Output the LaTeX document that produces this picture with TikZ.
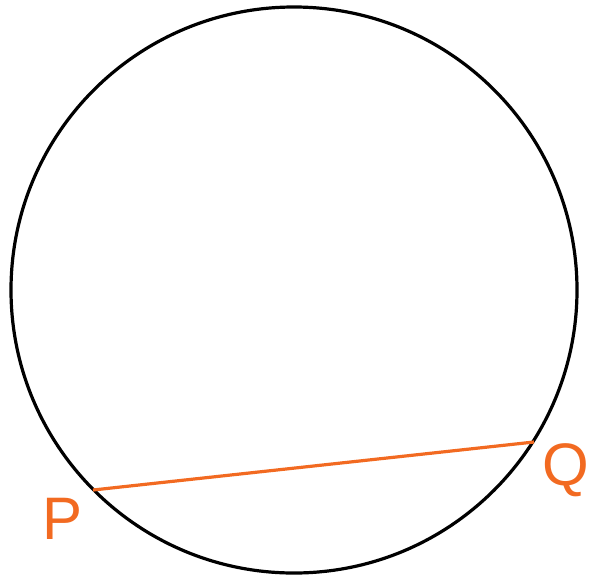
\documentclass[tikz,border=0pt]{standalone}
\usepackage{fontspec}
\setmainfont{Liberation Sans}
\usepackage{tikz}
\definecolor{chordorange}{RGB}{242,106,33}

\begin{document}
\begin{tikzpicture}[x=1pt, y=-1pt, thick]
      % Fix the frame
      \useasboundingbox (0, 0) rectangle (593, 576);

      % Define coordinates
      \coordinate (centre) at (294, 290);
      \coordinate (p_end) at (93, 490);
      \coordinate (q_end) at (534, 442);

      % Draw the circle
      \draw[line width=3.2pt] (centre) circle[radius=283];

      % Draw the chord PQ
      \draw[chordorange, line width=3.2pt] (p_end) -- (q_end);

      % Label the end points
      \node[chordorange, font=\fontsize{60}{60}\selectfont, anchor=base] (p_label) at (62.5, 539) {P};
      \node[chordorange, font=\fontsize{60}{60}\selectfont, anchor=base] (q_label) at (565.5, 485) {Q};
    \end{tikzpicture}
\end{document}
